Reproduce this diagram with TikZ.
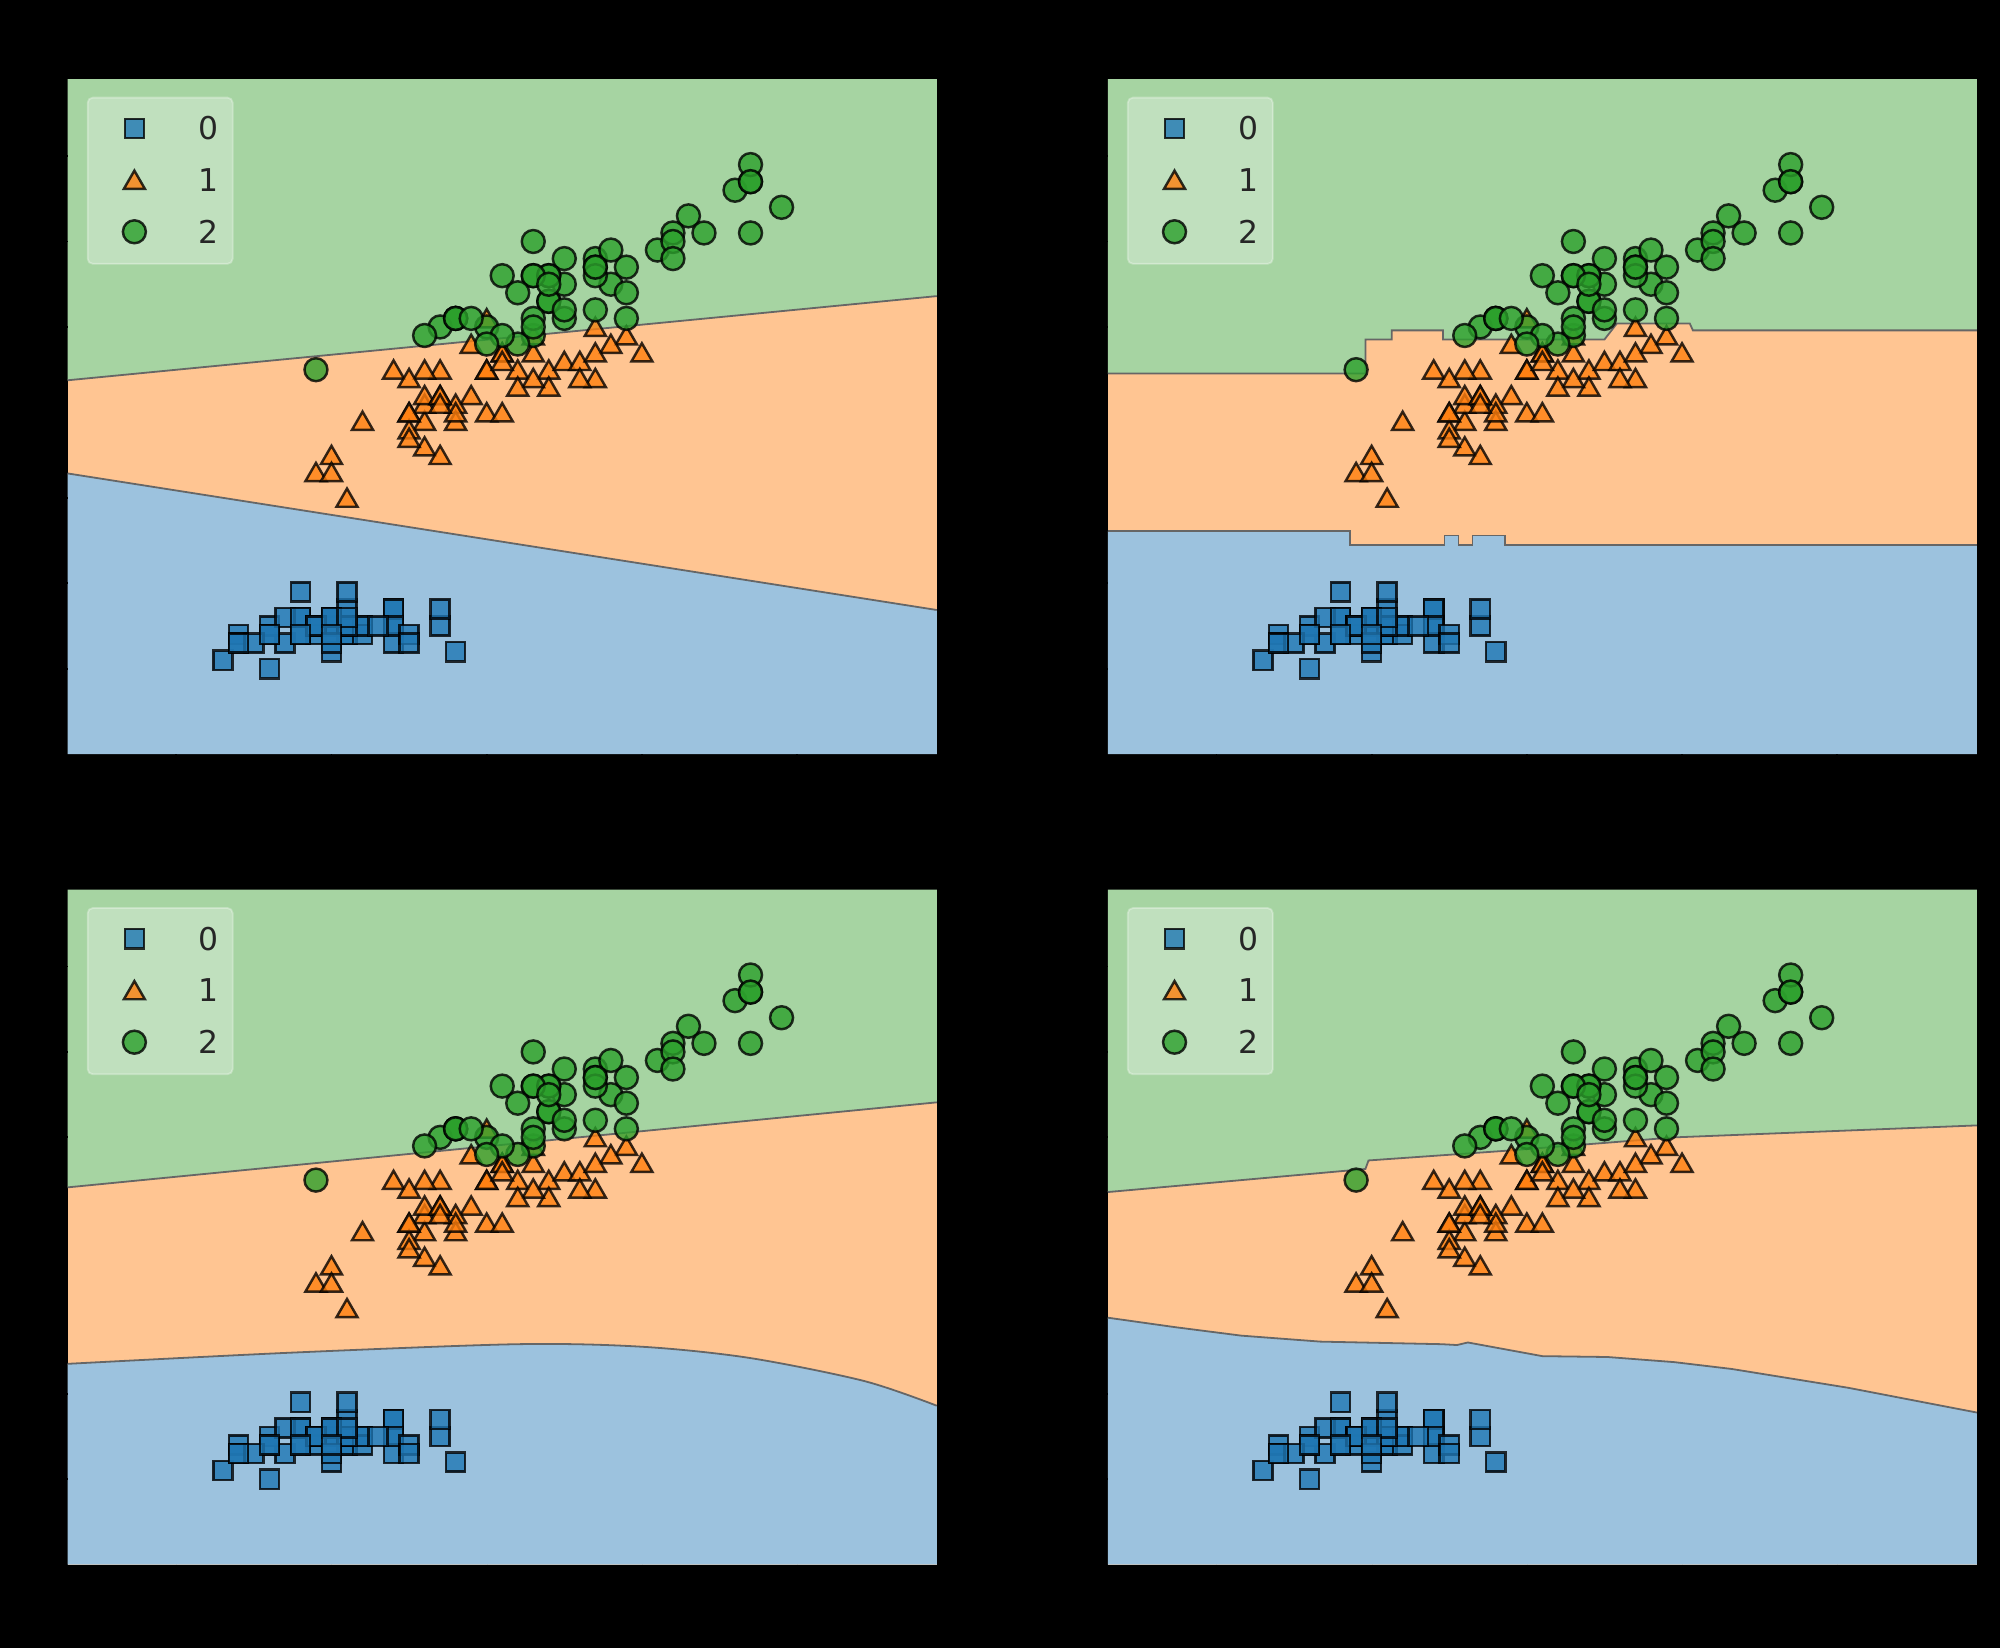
\documentclass[tikz,border=0pt]{standalone}
\usepackage{fontspec}
\setmainfont{DejaVu Sans}
\usetikzlibrary{shapes.geometric,positioning}

\definecolor{tabblue}{RGB}{31,119,180}
\definecolor{taborange}{RGB}{255,127,14}
\definecolor{tabgreen}{RGB}{44,160,44}
\definecolor{regblue}{RGB}{156,194,222}
\definecolor{regorange}{RGB}{255,197,146}
\definecolor{reggreen}{RGB}{166,212,162}

\tikzset{
  edge/.style={draw=black!60, line width=0.4pt},
  tick/.style={draw=black, line width=0.4pt},
  sqmark/.style={rectangle, draw=black, fill=tabblue, opacity=0.8, line width=0.55pt, minimum size=0.15cm, inner sep=0pt},
  trimark/.style={regular polygon, regular polygon sides=3, draw=black, fill=taborange, opacity=0.8, line width=0.55pt, minimum size=0.19cm, inner sep=0pt, yshift=-0.022cm},
  cirmark/.style={circle, draw=black, fill=tabgreen, opacity=0.8, line width=0.55pt, minimum size=0.18cm, inner sep=0pt},
  legbox/.style={rectangle, rounded corners=0.04cm, fill=white, fill opacity=0.3, draw=white, draw opacity=0.3, minimum width=1.136cm, minimum height=1.302cm, anchor=north west, inner sep=0pt},
  legtext/.style={font=\fontsize{7}{8}\selectfont, text=black!85, inner sep=0pt}
}

% decision boundaries, in data units (sepal length, petal length)
\newcommand{\bndTLg}{(3.3,4.376) -- (8.9,5.361)}
\newcommand{\bndTLb}{(3.3,3.286) -- (8.9,1.688)}
\newcommand{\bndTRg}{(3.3,4.455) -- (4.96,4.455) -- (4.96,4.853) -- (5.13,4.853) -- (5.13,4.96) -- (5.46,4.96) -- (5.46,4.853) -- (6.5,4.853) -- (6.58,5.04) -- (7.05,5.04) -- (7.07,4.96) -- (8.9,4.96)}
\newcommand{\bndTRb}{(3.3,2.613) -- (4.86,2.613) -- (4.86,2.444) -- (5.47,2.444) -- (5.47,2.56) -- (5.56,2.56) -- (5.56,2.444) -- (5.65,2.444) -- (5.65,2.56) -- (5.86,2.56) -- (5.86,2.444) -- (8.9,2.444)}
\newcommand{\bndBLg}{(3.3,4.415) -- (8.9,5.41)}
\newcommand{\bndBRg}{(3.3,4.36) -- (4.96,4.63) -- (4.98,4.73) -- (5.84,4.84) -- (6.95,5.0) -- (8.9,5.14)}
\newcommand{\bndBRb}{(3.3,2.89) -- (3.73,2.78) -- (4.16,2.68) -- (4.67,2.61) -- (5.45,2.58) -- (5.55,2.57) -- (5.62,2.6) -- (6.1,2.44) -- (6.52,2.43) -- (6.95,2.37) -- (7.32,2.29) -- (8.07,2.07) -- (8.9,1.78)}

\newcommand{\irisplot}[1]{
  \foreach \t in {1,...,7} \draw[tick] (3.3,\t) -- ++(-0.08cm,0);
  \foreach \t in {4,...,8} \draw[tick] (\t,0) -- ++(0,-0.08cm);
  \foreach \a/\b [count=\k] in {5.1/1.4, 4.9/1.4, 4.7/1.3, 4.6/1.5, 5.0/1.4, 5.4/1.7, 4.6/1.4, 5.0/1.5, 4.4/1.4, 4.9/1.5, 5.4/1.5, 4.8/1.6, 4.8/1.4, 4.3/1.1, 5.8/1.2, 5.7/1.5, 5.4/1.3, 5.1/1.4, 5.7/1.7, 5.1/1.5, 5.4/1.7, 5.1/1.5, 4.6/1.0, 5.1/1.7, 4.8/1.9, 5.0/1.6, 5.0/1.6, 5.2/1.5, 5.2/1.4, 4.7/1.6, 4.8/1.6, 5.4/1.5, 5.2/1.5, 5.5/1.4, 4.9/1.5, 5.0/1.2, 5.5/1.3, 4.9/1.5, 4.4/1.3, 5.1/1.5, 5.0/1.3, 4.5/1.3, 4.4/1.3, 5.0/1.6, 5.1/1.9, 4.8/1.4, 5.1/1.6, 4.6/1.4, 5.3/1.5, 5.0/1.4}
    \node[sqmark] (#1s\k) at (\a,\b) {};
  \foreach \a/\b [count=\k] in {7.0/4.7, 6.4/4.5, 6.9/4.9, 5.5/4.0, 6.5/4.6, 5.7/4.5, 6.3/4.7, 4.9/3.3, 6.6/4.6, 5.2/3.9, 5.0/3.5, 5.9/4.2, 6.0/4.0, 6.1/4.7, 5.6/3.6, 6.7/4.4, 5.6/4.5, 5.8/4.1, 6.2/4.5, 5.6/3.9, 5.9/4.8, 6.1/4.0, 6.3/4.9, 6.1/4.7, 6.4/4.3, 6.6/4.4, 6.8/4.8, 6.7/5.0, 6.0/4.5, 5.7/3.5, 5.5/3.8, 5.5/3.7, 5.8/3.9, 6.0/5.1, 5.4/4.5, 6.0/4.5, 6.7/4.7, 6.3/4.4, 5.6/4.1, 5.5/4.0, 5.5/4.4, 6.1/4.6, 5.8/4.0, 5.0/3.3, 5.6/4.2, 5.7/4.2, 5.7/4.2, 6.2/4.3, 5.1/3.0, 5.7/4.1}
    \node[trimark] (#1v\k) at (\a,\b) {};
  \foreach \a/\b [count=\k] in {6.3/6.0, 5.8/5.1, 7.1/5.9, 6.3/5.6, 6.5/5.8, 7.6/6.6, 4.9/4.5, 7.3/6.3, 6.7/5.8, 7.2/6.1, 6.5/5.1, 6.4/5.3, 6.8/5.5, 5.7/5.0, 5.8/5.1, 6.4/5.3, 6.5/5.5, 7.7/6.7, 7.7/6.9, 6.0/5.0, 6.9/5.7, 5.6/4.9, 7.7/6.7, 6.3/4.9, 6.7/5.7, 7.2/6.0, 6.2/4.8, 6.1/4.9, 6.4/5.6, 7.2/5.8, 7.4/6.1, 7.9/6.4, 6.4/5.6, 6.3/5.1, 6.1/5.6, 7.7/6.1, 6.3/5.6, 6.4/5.5, 6.0/4.8, 6.9/5.4, 6.7/5.6, 6.9/5.1, 5.8/5.1, 6.8/5.9, 6.7/5.7, 6.7/5.2, 6.3/5.0, 6.5/5.2, 6.2/5.4, 5.9/5.1}
    \node[cirmark] (#1g\k) at (\a,\b) {};
  % legend
  \node[legbox] (#1leg) at ([xshift=0.15cm,yshift=-0.138cm]3.3,7.9) {};
  \node[sqmark] (#1l0) at ([xshift=0.373cm,yshift=-0.248cm]#1leg.north west) {};
  \node[trimark] (#1l1) at ([xshift=0.373cm,yshift=-0.652cm]#1leg.north west) {};
  \node[cirmark] (#1l2) at ([xshift=0.373cm,yshift=-1.058cm]#1leg.north west) {};
  \node[legtext] (#1t0) at ([xshift=0.95cm,yshift=-0.248cm]#1leg.north west) {0};
  \node[legtext] (#1t1) at ([xshift=0.95cm,yshift=-0.652cm]#1leg.north west) {1};
  \node[legtext] (#1t2) at ([xshift=0.95cm,yshift=-1.058cm]#1leg.north west) {2};
}

\begin{document}
\begin{tikzpicture}[x=0.01cm, y=-0.01cm]
  \fill[black] (0,0) rectangle (1568,1292);
  \useasboundingbox (0,0) rectangle (1568,1292);

  % top left
  \begin{scope}[x=1.2161cm, y=0.6696cm, shift={(-3.48313cm,-5.91cm)}]
    \fill[regorange] (3.3,0) rectangle (8.9,7.9);
    \fill[regblue] (3.3,0) -- \bndTLb -- (8.9,0) -- cycle;
    \fill[reggreen] (3.3,7.9) -- \bndTLg -- (8.9,7.9) -- cycle;
    \draw[edge] \bndTLb;
    \draw[edge] \bndTLg;
    \irisplot{tl}
  \end{scope}

  % top right
  \begin{scope}[x=1.2161cm, y=0.6696cm, shift={(4.66687cm,-5.91cm)}]
    \fill[regorange] (3.3,0) rectangle (8.9,7.9);
    \fill[regblue] (3.3,0) -- \bndTRb -- (8.9,0) -- cycle;
    \fill[reggreen] (3.3,7.9) -- \bndTRg -- (8.9,7.9) -- cycle;
    \draw[edge] \bndTRb;
    \draw[edge] \bndTRg;
    \irisplot{tr}
  \end{scope}

  % bottom left
  \begin{scope}[x=1.2161cm, y=0.6696cm, shift={(-3.48313cm,-12.26cm)}]
    \fill[regorange] (3.3,0) rectangle (8.9,7.9);
    \fill[regblue] (3.3,0) -- plot[smooth] coordinates {(3.3,2.35) (4.73,2.48) (6.2,2.58) (7.0,2.55) (7.69,2.42) (8.43,2.15) (8.9,1.86)} -- (8.9,0) -- cycle;
    \fill[reggreen] (3.3,7.9) -- \bndBLg -- (8.9,7.9) -- cycle;
    \draw[edge] plot[smooth] coordinates {(3.3,2.35) (4.73,2.48) (6.2,2.58) (7.0,2.55) (7.69,2.42) (8.43,2.15) (8.9,1.86)};
    \draw[edge] \bndBLg;
    \irisplot{bl}
  \end{scope}

  % bottom right
  \begin{scope}[x=1.2161cm, y=0.6696cm, shift={(4.66687cm,-12.26cm)}]
    \fill[regorange] (3.3,0) rectangle (8.9,7.9);
    \fill[regblue] (3.3,0) -- \bndBRb -- (8.9,0) -- cycle;
    \fill[reggreen] (3.3,7.9) -- \bndBRg -- (8.9,7.9) -- cycle;
    \draw[edge] \bndBRb;
    \draw[edge] \bndBRg;
    \irisplot{br}
  \end{scope}
\end{tikzpicture}
\end{document}
